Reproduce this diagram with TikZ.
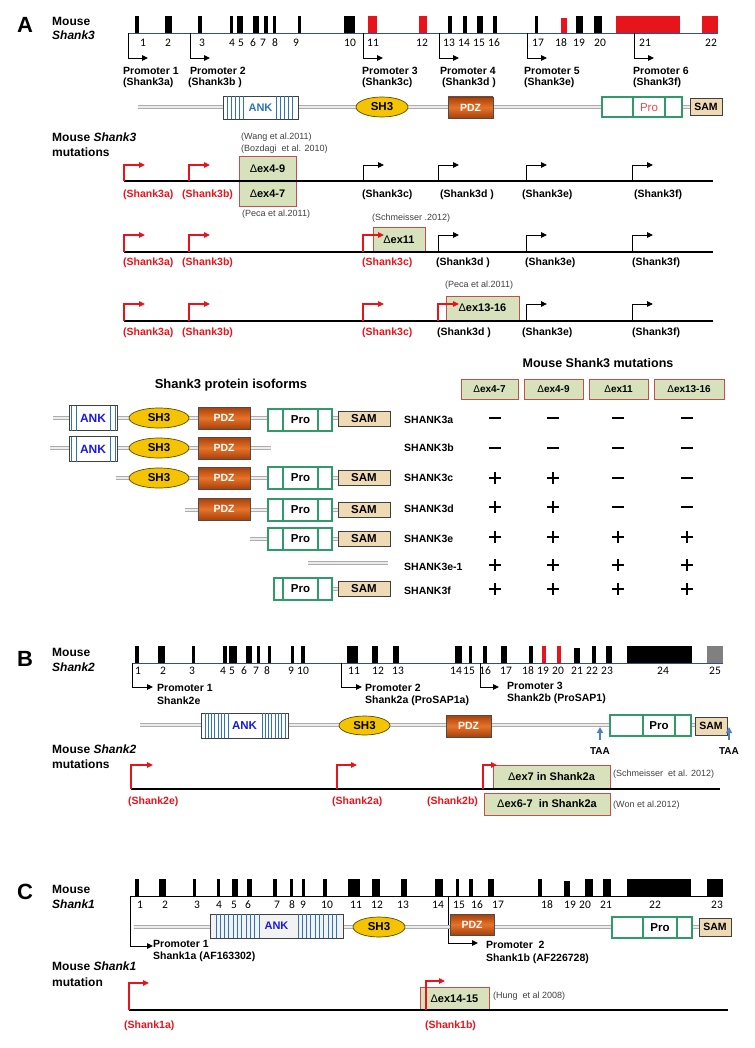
\documentclass[tikz,border=0pt]{standalone}
\usepackage{fontspec}
\setmainfont{Liberation Sans}
\newfontfamily\numfont{Carlito}
\usetikzlibrary{arrows.meta,shapes.geometric}
\definecolor{exred}{HTML}{E8141C}
\definecolor{navyline}{HTML}{2F4F8F}
\definecolor{delfill}{HTML}{D7E2BC}
\definecolor{deledge}{HTML}{C0504D}
\definecolor{shyellow}{HTML}{F5C400}
\definecolor{shedge}{HTML}{5A4A00}
\definecolor{pdzdark}{HTML}{A8400A}
\definecolor{pdzlight}{HTML}{E5732A}
\definecolor{progreen}{HTML}{2E9B68}
\definecolor{samfill}{HTML}{EEDAB4}
\definecolor{ankblue}{HTML}{2E75B6}
\definecolor{ankdark}{HTML}{1A1AE0}
\definecolor{taablue}{HTML}{4F81BD}
\definecolor{citegray}{HTML}{404040}
\definecolor{prored}{HTML}{F04848}
\tikzset{
  num/.style={inner sep=0, font=\numfont\fontsize{11.5}{11.5}\selectfont},
  blbl/.style={inner sep=0, anchor=west, font=\bfseries\fontsize{10.5}{10.5}\selectfont},
  rlbl/.style={blbl, text=exred},
  cite/.style={inner sep=0, anchor=west, text=citegray, font=\fontsize{9}{9}\selectfont},
  head/.style={inner sep=0, anchor=west, font=\bfseries\fontsize{12}{12}\selectfont},
  panel/.style={inner sep=0, font=\bfseries\fontsize{22}{22}\selectfont},
  genel/.style={draw=navyline, line width=0.8pt},
  prom/.style={line width=0.9pt, -{Triangle[length=6pt,width=5.5pt]}},
  rprom/.style={prom, draw=exred, line width=1.2pt},
  protline/.style={draw=gray!65, line width=1pt, double=gray!15, double distance=1.6pt},
  ank/.style={draw=black!75, fill=white, line width=0.7pt, inner sep=0},
  sh3/.style={ellipse, draw=shedge, fill=shyellow, line width=0.7pt, inner sep=0, font=\bfseries\fontsize{11.5}{11.5}\selectfont},
  pdz/.style={draw=black!70, top color=pdzdark, bottom color=pdzdark, middle color=pdzlight, text=white, inner sep=0, line width=0.6pt, font=\bfseries\fontsize{10.5}{10.5}\selectfont},
  probox/.style={draw=progreen, fill=white, line width=1.2pt, inner sep=0},
  protxt/.style={inner sep=0, font=\bfseries\fontsize{11.5}{11.5}\selectfont},
  sam/.style={draw=black!75, fill=samfill, line width=0.7pt, inner sep=0, font=\bfseries\fontsize{10.5}{10.5}\selectfont},
  delbox/.style={draw=deledge, fill=delfill, line width=0.9pt, inner sep=0, font=\bfseries\fontsize{11}{11}\selectfont},
  stripe/.style={draw=ankblue, line width=1pt},
  mutline/.style={draw=black, line width=1.8pt},
  sgn/.style={line width=2.4pt},
  isolbl/.style={inner sep=0, anchor=west, font=\bfseries\fontsize{10.5}{10.5}\selectfont},
}
\newcommand\isoANK[2]{%
  \node[ank, minimum width=48pt, minimum height=25pt, text=ankdark, font=\bfseries\fontsize{12}{12}\selectfont] (#1) at (93,#2) {ANK};
  \foreach \sx in {71.5,76.5,110,115} {\draw[stripe] (\sx,#2-12.5) -- (\sx,#2+12.5);}}
\newcommand\isoSH[2]{\node[sh3, minimum width=60pt, minimum height=20pt] (#1) at (159,#2) {SH3};}
\newcommand\isoPDZ[2]{\node[pdz, minimum width=52pt, minimum height=22pt] (#1) at (224,#2) {PDZ};}
\newcommand\isoPro[4]{%
  \node[probox, minimum width=#4pt, minimum height=22pt] (#1) at (#3,#2) {};
  \draw[progreen, line width=1.2pt] (283,#2-11) -- (283,#2+11) (318,#2-11) -- (318,#2+11);
  \node[protxt] at (300.5,#2) {Pro};}
\newcommand\isoSAM[2]{\node[sam, minimum width=52pt, minimum height=15pt, font=\bfseries\fontsize{11.5}{11.5}\selectfont] (#1) at (364,#2) {SAM};}
\newcommand\mminus[2]{\draw[sgn] (#1-6,#2) -- (#1+6,#2);}
\newcommand\pplus[2]{\draw[sgn] (#1-6,#2) -- (#1+6,#2) (#1,#2-6) -- (#1,#2+6);}
\begin{document}
\begin{tikzpicture}[x=1pt,y=-1pt]
\useasboundingbox (0,0) rectangle (754,1048);
\fill[white] (0,0) rectangle (754,1048);

% ================= PANEL A =================
\node[panel] (pA) at (25,25) {A};
\node[head] (mouseA) at (52,21) {Mouse};
\node[head] (shankA) at (52,35) {\itshape Shank3};
\draw[genel] (128,33) -- (718,33);
\foreach \a/\b in {135/139,165/172,198/202,230/233,237/243,253/259,264/268,273/276,298/301,344/355,448/452,463/467,477/483,493/497,535/538,576/583,594/602}
  \fill (\a,16) rectangle (\b,33);
\foreach \a/\b in {368/377,419/427,616/680,702/718}
  \fill[exred] (\a,16) rectangle (\b,33);
\fill[exred] (561,18) rectangle (567,33);
\foreach \n/\x in {1/143,2/168,3/202,4/232,5/241,6/253,7/263,8/275,9/296,10/350,11/373,12/422,13/449,14/464,15/479,16/494,17/538,18/561,19/579,20/600,21/645,22/711}
  \node[num] (nA\n) at (\x,43) {\n};
\foreach \x in {128,190,363,439,527,634}
  \draw[prom] (\x,33) |- (\x+20,58);
\node[blbl] (pA1) at (123,71) {Promoter 1};
\node[blbl] (sA1) at (123,83) {(Shank3a)};
\node[blbl] (pA2) at (190,71) {Promoter 2};
\node[blbl] (sA2) at (188,83) {(Shank3b )};
\node[blbl] (pA3) at (362,71) {Promoter 3};
\node[blbl] (sA3) at (362,83) {(Shank3c)};
\node[blbl] (pA4) at (440,71) {Promoter 4};
\node[blbl] (sA4) at (442,83) {(Shank3d )};
\node[blbl] (pA5) at (524,71) {Promoter 5};
\node[blbl] (sA5) at (524,83) {(Shank3e)};
\node[blbl] (pA6) at (633,71) {Promoter 6};
\node[blbl] (sA6) at (633,83) {(Shank3f)};

% protein A
\draw[protline] (138,107) -- (690,107);
\node[ank, minimum width=75pt, minimum height=23pt, text=ankblue, font=\bfseries\fontsize{11}{11}\selectfont] (ankA) at (260.5,107.5) {ANK};
\foreach \sx in {227,231,235,239,243,276,280,284,288,292} \draw[stripe] (\sx,96) -- (\sx,119);
\node[sh3, minimum width=52pt, minimum height=20pt] (shA) at (382,107) {SH3};
\node[pdz, minimum width=45pt, minimum height=21pt] (pdzA) at (470.5,107.5) {PDZ};
\node[probox, minimum width=80pt, minimum height=20pt] (proA) at (642,107) {};
\draw[progreen, line width=1.2pt] (633,97) -- (633,117) (665,97) -- (665,117);
\node[protxt, text=prored, font=\fontsize{11.5}{11.5}\selectfont] (proAt) at (649,108) {Pro};
\node[sam, minimum width=32pt, minimum height=17pt] (samA) at (706,106.5) {SAM};

% mutations A
\node[head] (mmA1) at (52,137) {Mouse \itshape Shank3};
\node[head] (mmA2) at (52,152) {mutations};
% row 1
\node[delbox, minimum width=57pt, minimum height=25pt] (d49) at (267.5,168.5) {{\mdseries Δ}ex4-9};
\node[delbox, minimum width=57pt, minimum height=25pt] (d47) at (267.5,193.5) {{\mdseries Δ}ex4-7};
\draw[mutline] (124,181) -- (713,181);
\foreach \x in {124,189} \draw[rprom] (\x,181) |- (\x+21,165);
\foreach \x in {363,438,526,632} \draw[prom] (\x,181) |- (\x+21,165);
\node[cite] (c1) at (241,137) {(Wang et al.2011)};
\node[cite] (c2) at (241,149) {(Bozdagi\ \ et al. 2010)};
\node[cite] (c3) at (242,214) {(Peca et al.2011)};
\node[rlbl] (r1a) at (123,195) {(Shank3a)};
\node[rlbl] (r1b) at (182,195) {(Shank3b)};
\node[blbl] (r1c) at (362,195) {(Shank3c)};
\node[blbl] (r1d) at (440,195) {(Shank3d )};
\node[blbl] (r1e) at (522,195) {(Shank3e)};
\node[blbl] (r1f) at (634,195) {(Shank3f)};
% row 2
\node[delbox, minimum width=52pt, minimum height=25pt] (d11) at (399,239.5) {{\mdseries Δ}ex11};
\draw[mutline] (124,252) -- (713,252);
\foreach \x in {124,189,363} \draw[rprom] (\x,252) |- (\x+21,235);
\foreach \x in {438,526,632} \draw[prom] (\x,252) |- (\x+21,235);
\node[cite] (c4) at (372,218) {(Schmeisser .2012)};
\node[rlbl] (r2a) at (123,263) {(Shank3a)};
\node[rlbl] (r2b) at (182,263) {(Shank3b)};
\node[rlbl] (r2c) at (362,263) {(Shank3c)};
\node[blbl] (r2d) at (436,263) {(Shank3d )};
\node[blbl] (r2e) at (525,263) {(Shank3e)};
\node[blbl] (r2f) at (632,263) {(Shank3f)};
% row 3
\node[delbox, minimum width=73pt, minimum height=24pt] (d1316) at (482.5,308) {{\mdseries Δ}ex13-16};
\draw[mutline] (124,321) -- (713,321);
\foreach \x in {124,189,363,438} \draw[rprom] (\x,321) |- (\x+21,304);
\foreach \x in {526,632} \draw[prom] (\x,321) |- (\x+21,304);
\node[cite] (c5) at (445,285) {(Peca et al.2011)};
\node[rlbl] (r3a) at (123,333) {(Shank3a)};
\node[rlbl] (r3b) at (182,333) {(Shank3b)};
\node[rlbl] (r3c) at (362,333) {(Shank3c)};
\node[blbl] (r3d) at (437,333) {(Shank3d )};
\node[blbl] (r3e) at (522,333) {(Shank3e)};
\node[blbl] (r3f) at (632,333) {(Shank3f)};

% isoforms
\node[inner sep=0, font=\bfseries\fontsize{13}{13}\selectfont] (isoT) at (231,385) {Shank3 protein isoforms};
% a
\draw[protline] (53,418) -- (338,418);
\isoANK{ankIa}{418}\isoSH{shIa}{418}\isoPDZ{pdzIa}{418}\isoPro{proIa}{420}{300}{64}\isoSAM{samIa}{419}
% b
\draw[protline] (50,448) -- (271,448);
\isoANK{ankIb}{449}\isoSH{shIb}{448}\isoPDZ{pdzIb}{448}
% c
\draw[protline] (116,478) -- (338,478);
\isoSH{shIc}{478}\isoPDZ{pdzIc}{478}\isoPro{proIc}{478}{300}{64}\isoSAM{samIc}{478}
% d
\draw[protline] (185,510) -- (338,510);
\isoPDZ{pdzId}{509}\isoPro{proId}{510}{300}{64}\isoSAM{samId}{510}
% e
\draw[protline] (250,539) -- (338,539);
\isoPro{proIe}{539}{300}{64}\isoSAM{samIe}{539}
% e-1
\draw[protline] (308,563) -- (388,563);
% f
\draw[protline] (332,589) -- (338,589);
\isoPro{proIf}{589}{303}{58}\isoSAM{samIf}{589}

\foreach \t/\y in {SHANK3a/420,SHANK3b/448,SHANK3c/478,SHANK3d/509,SHANK3e/539,SHANK3e-1/567,SHANK3f/591}
  \node[isolbl] (lab\t) at (404,\y) {\t};

% table
\node[inner sep=0, font=\bfseries\fontsize{12.5}{12.5}\selectfont] (tabT) at (598,363) {Mouse Shank3 mutations};
\node[delbox, minimum width=57pt, minimum height=20pt, font=\bfseries\fontsize{10}{10}\selectfont] (h1) at (489.5,389) {{\mdseries Δ}ex4-7};
\node[delbox, minimum width=59pt, minimum height=20pt, font=\bfseries\fontsize{10}{10}\selectfont] (h2) at (553.5,389) {{\mdseries Δ}ex4-9};
\node[delbox, minimum width=59pt, minimum height=20pt, font=\bfseries\fontsize{10}{10}\selectfont] (h3) at (618.5,389) {{\mdseries Δ}ex11};
\node[delbox, minimum width=70pt, minimum height=20pt, font=\bfseries\fontsize{10}{10}\selectfont] (h4) at (689,389) {{\mdseries Δ}ex13-16};
\foreach \x in {495,553,618,687} {\mminus{\x}{418}\mminus{\x}{448}}
\foreach \x in {495,553} {\pplus{\x}{478}\pplus{\x}{507}}
\foreach \x in {618,687} {\mminus{\x}{478}\mminus{\x}{507}}
\foreach \x in {495,553,618,687} {\pplus{\x}{537}\pplus{\x}{565}\pplus{\x}{589}}

% ================= PANEL B =================
\node[panel] (pB) at (25,659) {B};
\node[head] (mouseB) at (52,652) {Mouse};
\node[head] (shankB) at (52,667) {\itshape Shank2};
\draw[genel] (132,663) -- (723,663);
\foreach \a/\b in {135/139,158/165,192/195,223/227,229/237,246/252,257/260,268/271,291/294,301/305,347/358,372/378,393/399,455/462,469/472,483/487,501/507,529/533,592/596,606/612,627/692}
  \fill (\a,646) rectangle (\b,663);
\fill (574,648) rectangle (580,663);
\foreach \a/\b in {542/546,557/561}
  \fill[exred] (\a,646) rectangle (\b,663);
\fill[gray] (707,646) rectangle (723,663);
\foreach \n/\x in {1/138,2/163,3/192,4/223,5/232,6/244,7/256,8/267,9/291,10/303,11/354,12/378,13/398,14/456,15/469,16/485,17/506,18/528,19/543,20/558,21/577,22/592,23/607,24/663,25/715}
  \node[num] (nB\n) at (\x,671) {\n};
\draw[prom] (132,663) |- (153,687);
\draw[prom] (341,663) |- (362,687);
\draw[prom] (480,663) |- (499,687);
\node[blbl] (pB1) at (157,688) {Promoter 1};
\node[blbl] (sB1) at (157,701) {Shank2e};
\node[blbl] (pB2) at (365,688) {Promoter 2};
\node[blbl] (sB2) at (365,701) {Shank2a (ProSAP1a)};
\node[blbl] (pB3) at (507,686) {Promoter 3};
\node[blbl] (sB3) at (507,699) {Shank2b (ProSAP1)};

\draw[protline] (140,725) -- (728,725);
\node[ank, minimum width=87pt, minimum height=25pt, text=ankdark, font=\bfseries\fontsize{11.5}{11.5}\selectfont] (ankB) at (244.5,725.5) {ANK};
\foreach \sx in {205,208.3,211.6,214.9,218.2,221.5,224.8,228.1,262,265.3,268.6,271.9,275.2,278.5,281.8,285.1} \draw[stripe] (\sx,713) -- (\sx,738);
\node[sh3, minimum width=51pt, minimum height=19pt] (shB) at (364.5,725.5) {SH3};
\node[pdz, minimum width=45pt, minimum height=22pt] (pdzB) at (468.5,726) {PDZ};
\node[probox, minimum width=81pt, minimum height=21pt] (proB) at (650.5,725.5) {};
\draw[progreen, line width=1.2pt] (643,715) -- (643,736) (675,715) -- (675,736);
\node[protxt] (proBt) at (659,726) {Pro};
\node[sam, minimum width=32pt, minimum height=18pt] (samB) at (711,726) {SAM};
\draw[taablue, line width=1.6pt, -{Triangle[length=6pt,width=6pt]}] (600,740) -- (600,727);
\draw[taablue, line width=1.6pt, -{Triangle[length=6pt,width=6pt]}] (729,740) -- (729,727);
\node[inner sep=0, font=\bfseries\fontsize{10}{10}\selectfont] (taa1) at (600,751) {TAA};
\node[inner sep=0, font=\bfseries\fontsize{10}{10}\selectfont] (taa2) at (729,751) {TAA};

\node[head] (mmB1) at (52,749) {Mouse \itshape Shank2};
\node[head] (mmB2) at (52,764) {mutations};
\node[delbox, minimum width=117pt, minimum height=24pt, font=\bfseries\fontsize{11}{11}\selectfont] (d7) at (551.5,777) {{\mdseries Δ}ex7 in Shank2a};
\node[delbox, minimum width=126pt, minimum height=22pt, font=\bfseries\fontsize{11}{11}\selectfont] (d67) at (547,804) {{\mdseries Δ}ex6-7\ \ in Shank2a};
\draw[mutline] (131,789) -- (720,789);
\draw[rprom] (131,789) |- (153,765);
\draw[rprom] (337,789) |- (357,765);
\draw[rprom] (483,789) |- (497,765);
\node[cite] (c6) at (613,774) {(Schmeisser\ \ et al. 2012)};
\node[cite] (c7) at (613,805) {(Won et al.2012)};
\node[rlbl] (rB1) at (128,802) {(Shank2e)};
\node[rlbl] (rB2) at (332,802) {(Shank2a)};
\node[rlbl] (rB3) at (427,802) {(Shank2b)};

% ================= PANEL C =================
\node[panel] (pC) at (25,892) {C};
\node[head] (mouseC) at (52,889) {Mouse};
\node[head] (shankC) at (52,904) {\itshape Shank1};
\draw[black, line width=0.8pt] (130,896) -- (723,896);
\foreach \a/\b in {135/139,159/166,193/196,217/220,232/238,247/252,273/277,290/293,302/305,323/327,348/360,372/380,401/407,435/443,456/459,469/473,488/494,538/542,585/593,603/611,627/691,707/723}
  \fill (\a,879) rectangle (\b,896);
\fill (564,881) rectangle (570,896);
\foreach \n/\x in {1/140,2/165,3/197,4/219,5/234,6/248,7/277,8/292,9/303,10/327,11/356,12/377,13/403,14/438,15/459,16/477,17/498,18/547,19/570,20/585,21/606,22/655,23/717}
  \node[num] (nC\n) at (\x,905) {\n};
\draw[prom] (130,896) |- (153,946);
\draw[prom] (448,896) |- (478,943);
\node[blbl] (pC1) at (153,944) {Promoter 1};
\node[blbl] (sC1) at (153,957) {Shank1a (AF163302)};
\node[blbl] (pC2) at (486,945) {Promoter\ \ 2};
\node[blbl] (sC2) at (486,959) {Shank1b (AF226728)};

\draw[protline] (134,927) -- (699,927);
\node[ank, fill=black!5, minimum width=133pt, minimum height=24pt, text=ankdark, font=\bfseries\fontsize{11}{11}\selectfont] (ankC) at (276.5,926) {ANK};
\foreach \i in {0,...,10} \draw[stripe] (216+\i*4.3,914) -- (216+\i*4.3,938);
\foreach \i in {0,...,9} \draw[stripe] (298+\i*4.3,914) -- (298+\i*4.3,938);
\node[sh3, minimum width=52pt, minimum height=20pt] (shC) at (379,927) {SH3};
\node[pdz, minimum width=44pt, minimum height=21pt] (pdzC) at (472,924.5) {PDZ};
\node[probox, minimum width=80pt, minimum height=21pt] (proC) at (652,927.5) {};
\draw[progreen, line width=1.2pt] (643,917) -- (643,938) (677,917) -- (677,938);
\node[protxt] (proCt) at (660,928) {Pro};
\node[sam, minimum width=32pt, minimum height=18pt] (samC) at (715,927) {SAM};

\node[head] (mmC1) at (52,966) {Mouse \itshape Shank1};
\node[head] (mmC2) at (52,982) {mutation};
\node[delbox, minimum width=69pt, minimum height=23pt, font=\bfseries\fontsize{11}{11}\selectfont] (d1415) at (454.5,998.5) {{\mdseries Δ}ex14-15};
\draw[black, line width=1.5pt] (129,1010) -- (728,1010);
\draw[rprom] (129,1010) |- (149,983);
\draw[rprom] (426,1010) |- (445,981);
\node[cite] (c8) at (493,996) {(Hung\ \ et al 2008)};
\node[rlbl] (rC1) at (124,1026) {(Shank1a)};
\node[rlbl] (rC2) at (425,1026) {(Shank1b)};
\end{tikzpicture}
\end{document}
